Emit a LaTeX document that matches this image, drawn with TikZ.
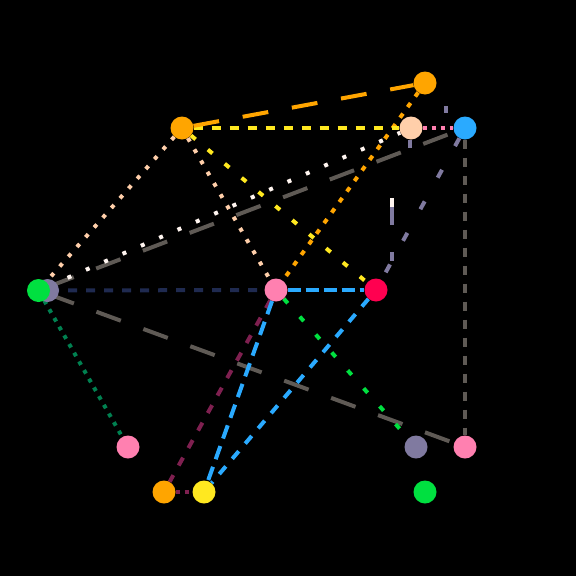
\documentclass[tikz,border=0pt]{standalone}
\begin{document}
\begin{tikzpicture}[x=1pt,y=-1pt,
  dot/.style={circle,inner sep=0pt,minimum size=23pt,draw=none},
  edge/.style={line width=4pt},
]
\definecolor{cOrange}{HTML}{FFA500}
\definecolor{cPeach}{HTML}{FFCFAA}
\definecolor{cBlue}{HTML}{2AAAFF}
\definecolor{cGreen}{HTML}{00E040}
\definecolor{cLav}{HTML}{807AA0}
\definecolor{cPink}{HTML}{FF80B0}
\definecolor{cRed}{HTML}{FF0050}
\definecolor{cYellow}{HTML}{FFE820}
\definecolor{cGray}{HTML}{5F5A55}
\definecolor{cNavy}{HTML}{1F2A50}
\definecolor{cDkGreen}{HTML}{008050}
\definecolor{cMag}{HTML}{7F2050}
\definecolor{cWhite}{HTML}{FFF5F0}
\fill[black] (0,0) rectangle (576,576);
\useasboundingbox (0,0) rectangle (576,576);
% node positions (drawn later)
\path (425,83) node[dot] (A) {}
      (182,128) node[dot] (B) {}
      (411,128) node[dot] (C) {}
      (465,128) node[dot] (D) {}
      (47.5,290.5) node[dot] (X) {}
      (38.5,290.5) node[dot] (E) {}
      (276,290) node[dot] (F) {}
      (376,290) node[dot] (G) {}
      (128,447) node[dot] (H) {}
      (416,447) node[dot] (I) {}
      (465,447) node[dot] (J) {}
      (164,492) node[dot] (K) {}
      (204,492) node[dot] (L) {}
      (425,492) node[dot] (M) {};
% edges
\draw[edge,cGray,dash pattern=on 26pt off 24pt] (E) -- (D);
\draw[edge,cGray,dash pattern=on 26pt off 24pt] (E) -- (J);
\draw[edge,cWhite,dash pattern=on 4pt off 16pt] (E) -- (C);
\draw[edge,cPeach,dash pattern=on 4pt off 9pt] (B) -- (E);
\draw[edge,cPeach,dash pattern=on 4pt off 9pt] (B) -- (F);
\draw[edge,cYellow,dash pattern=on 6pt off 16pt] (B) -- (G);
\draw[edge,cOrange,dash pattern=on 5pt off 8pt] (A) -- (F);
\draw[edge,cYellow,dash pattern=on 9pt off 9pt] (B) -- (C);
\draw[edge,cOrange,dash pattern=on 26pt off 24pt] (B) -- (A);
\draw[edge,cPink,dash pattern=on 4pt off 5pt] (C) -- (D);
\draw[edge,cGray,dash pattern=on 9pt off 9pt] (D) -- (J);
\draw[edge,cNavy,dash pattern=on 9pt off 9pt] (E) -- (F);
\draw[edge,cBlue,dash pattern=on 13pt off 5pt] (F) -- (G);
\draw[edge,cMag,dash pattern=on 9pt off 11pt] (F) -- (K);
\draw[edge,cBlue,dash pattern=on 14pt off 8pt] (F) -- (L);
\draw[edge,cBlue,dash pattern=on 10pt off 10pt] (G) -- (L);
\draw[edge,cGreen,dash pattern=on 6pt off 18pt] (F) -- (I);
\draw[edge,cDkGreen,dash pattern=on 4pt off 6pt] (E) -- (H);
\draw[edge,cLav,dash pattern=on 9pt off 27pt] (D) -- (G);
\draw[edge,cMag,dash pattern=on 4pt off 5pt] (K) -- (L);
% loose marks
\draw[edge,cLav] (446,106) -- (446,113);
\draw[edge,cLav] (410,140) -- (410,148);
\draw[edge,cWhite] (392,198) -- (392,207);
\draw[edge,cLav] (392,207) -- (392,225);
\draw[edge,cLav] (392,252) -- (392,261);
% nodes
\fill[cLav] (X) circle (11.5pt);
\fill[cOrange] (A) circle (11.5pt);
\fill[cOrange] (B) circle (11.5pt);
\fill[cPeach] (C) circle (11.5pt);
\fill[cBlue] (D) circle (11.5pt);
\fill[cGreen] (E) circle (11.5pt);
\fill[cPink] (F) circle (11.5pt);
\fill[cRed] (G) circle (11.5pt);
\fill[cPink] (H) circle (11.5pt);
\fill[cLav] (I) circle (11.5pt);
\fill[cPink] (J) circle (11.5pt);
\fill[cOrange] (K) circle (11.5pt);
\fill[cYellow] (L) circle (11.5pt);
\fill[cGreen] (M) circle (11.5pt);
\end{tikzpicture}
\end{document}
